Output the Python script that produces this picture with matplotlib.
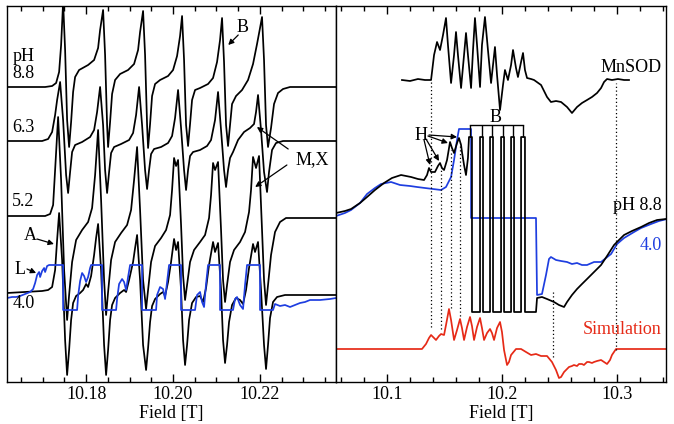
import matplotlib
matplotlib.use("Agg")
import matplotlib.pyplot as plt
from matplotlib.ticker import FixedLocator, MultipleLocator, FormatStrFormatter

plt.rcParams['font.family'] = ['Liberation Serif', 'DejaVu Serif']
plt.rcParams['font.size'] = 13

BLUE = '#1e3ee0'
RED = '#e62a17'

# ---------------- Left panel data (field offset in mT above 10.16 T, intensity a.u.)
B0_LEFT = 10.16
ph88 = [(1.83,295),(10.57,295),(12.18,296),(13.10,299),(13.79,310),(14.25,337),(14.71,380),(15.17,332),
        (15.63,262),(16.09,235),(16.55,260),(17.01,290),(17.47,305),(18.39,312),(20.46,317),(21.84,322),
        (22.76,334),(23.22,352),(23.91,372),(24.37,327),(24.83,257),(25.06,235),(25.52,260),(25.98,288),
        (26.67,302),(27.82,308),(29.66,312),(31.04,318),(31.96,332),(32.42,350),(33.11,371),(33.57,327),
        (34.03,257),(34.26,234),(34.72,258),(35.18,286),(35.87,298),(37.02,302),(38.86,306),(40.01,312),
        (40.93,326),(41.62,346),(42.08,366),(42.54,322),(43.00,257),(43.46,236),(43.92,258),(44.38,282),
        (45.07,292),(46.22,294),(48.06,298),(49.21,304),(50.13,320),(50.82,342),(51.28,364),(51.74,320),
        (52.20,257),(52.66,236),(53.12,257),(53.58,278),(54.50,286),(55.88,292),(57.26,302),(58.41,318),
        (59.33,338),(60.02,354),(60.48,365),(60.94,322),(61.40,257),(61.86,235),(62.55,254),(63.24,278),
        (64.16,289),(65.31,293),(66.92,295),(77.50,295)]
ph63 = [(1.83,241),(9.88,241),(11.26,243),(12.18,250),(12.87,267),(13.33,282),(14.02,300),(14.71,262),
        (15.40,207),(15.86,189),(16.32,210),(16.78,230),(17.47,237),(19.08,240),(20.92,245),(21.84,252),
        (22.53,270),(23.22,295),(23.91,257),(24.37,212),(24.83,189),(25.29,210),(25.75,229),(26.44,235),
        (28.05,238),(29.89,242),(30.81,249),(31.50,267),(32.19,295),(32.88,257),(33.57,212),(34.03,193),
        (34.49,212),(34.95,228),(35.64,233),(37.25,235),(38.86,239),(39.78,246),(40.47,264),(41.16,292),
        (41.85,254),(42.54,212),(43.00,192),(43.46,212),(43.92,226),(44.61,230),(46.22,232),(47.83,236),
        (48.75,242),(49.67,262),(50.36,290),(51.05,252),(51.74,212),(52.20,195),(52.66,212),(53.12,224),
        (53.81,230),(54.96,242),(56.34,250),(57.72,254),(58.64,258),(59.10,270),(59.56,287),(60.25,252),
        (60.94,210),(61.63,190),(62.09,210),(62.78,232),(63.70,239),(65.31,241),(77.50,241)]
ph52 = [(1.83,166),(10.57,166),(11.72,168),(12.41,177),(12.87,212),(13.56,265),(14.25,202),(14.94,112),
        (15.63,62),(16.09,87),(16.78,120),(17.70,142),(19.08,152),(20.46,160),(21.38,174),(22.07,207),
        (22.76,252),(23.45,182),(24.14,102),(24.60,67),(25.06,90),(25.75,122),(26.67,140),(28.05,149),
        (29.43,157),(30.35,172),(31.04,202),(31.73,235),(32.42,172),(33.11,102),(33.80,73),(34.26,92),
        (34.95,120),(35.87,136),(37.25,144),(38.40,152),(39.32,167),(39.78,192),(40.24,224),(40.70,216),
        (41.16,222),(41.85,157),(42.31,107),(42.77,82),(43.23,97),(43.92,120),(44.84,132),(46.22,140),
        (47.37,147),(48.29,164),(48.75,187),(49.21,219),(49.67,212),(50.36,220),(51.05,152),(51.51,102),
        (51.97,80),(52.43,97),(53.12,120),(54.04,132),(55.42,140),(56.57,150),(57.49,170),(57.95,192),
        (58.41,225),(59.10,214),(59.79,226),(60.48,152),(60.94,102),(61.40,77),(61.86,97),(62.55,127),
        (63.47,150),(64.62,160),(66.00,164),(77.50,164)]
ph40 = [(1.83,89),(9.88,91),(11.26,92),(12.18,95),(12.87,112),(13.33,142),(13.79,169),(14.48,122),
        (15.17,42),(15.63,7),(16.09,32),(16.55,62),(17.01,79),(17.70,86),(18.62,89),(19.31,92),(20.00,98),
        (20.46,95),(21.15,106),(21.84,127),(22.30,144),(22.76,158),(23.45,112),(24.14,37),(24.60,7),
        (25.06,32),(25.52,62),(25.98,77),(26.67,84),(27.82,89),(28.74,92),(29.20,90),(29.89,102),
        (30.81,120),(31.27,134),(31.73,147),(32.42,102),(33.11,37),(33.80,12),(34.26,34),(34.72,60),
        (35.18,76),(35.87,83),(37.02,88),(37.71,90),(38.17,86),(38.86,100),(39.55,120),(40.24,143),
        (40.70,132),(41.16,140),(41.85,92),(42.31,42),(42.77,17),(43.23,37),(43.69,62),(44.38,79),
        (45.30,85),(46.22,86),(46.91,80),(47.60,94),(48.29,117),(49.21,140),(49.67,130),(50.36,139),
        (51.05,92),(51.51,42),(51.97,19),(52.43,37),(52.89,60),(53.58,77),(54.50,84),(55.42,82),
        (56.11,78),(56.80,92),(57.49,114),(58.41,138),(58.87,130),(59.56,140),(60.25,92),(60.94,37),
        (61.40,13),(61.86,37),(62.32,64),(63.01,80),(63.93,85),(65.77,87),(77.50,87)]
ph40_blue = [(1.83,84),(2.98,85),(3.90,85),(4.82,86),(5.97,88),(7.12,90),(7.81,93),(8.27,99),(8.73,107),
        (9.19,110),(9.42,105),(9.88,111),(10.34,114),(10.57,110),(11.03,116),(11.49,117),(14.71,117),
        (14.71,72),(17.93,72),(18.16,86),(18.62,101),(19.08,109),(19.54,106),(20.00,100),(20.46,105),
        (20.92,114),(21.15,117),(23.68,117),(23.68,72),(26.90,72),(27.13,83),(27.59,98),(28.28,103),
        (28.74,100),(29.20,92),(29.66,105),(30.12,117),(32.88,117),(32.88,72),(36.10,72),(36.33,87),
        (37.02,95),(37.71,93),(38.17,83),(38.63,100),(39.09,117),(41.85,117),(41.85,72),(45.07,72),
        (45.53,87),(46.22,90),(46.68,80),(47.14,75),(47.60,98),(48.06,117),(50.82,117),(50.82,72),
        (53.81,72),(54.27,83),(54.73,85),(55.42,77),(56.11,73),(56.57,97),(57.03,117),(60.02,117),
        (60.02,72),(63.01,72),(63.47,78),(64.62,76),(65.77,77),(66.92,75),(68.07,77),(69.22,79),
        (70.37,80),(71.52,82),(73.82,82),(76.12,83),(77.50,84)]

# ---------------- Right panel data (field in T, intensity a.u.)
mnsod = [(10.1132,302),(10.1202,301),(10.1271,303),(10.1332,302),(10.1385,302),(10.1411,327),(10.1437,340),
         (10.1463,332),(10.1489,347),(10.1515,364),(10.1532,337),(10.1559,299),(10.1585,327),(10.1602,350),
         (10.1619,327),(10.1646,294),(10.1672,327),(10.1689,349),(10.1706,327),(10.1733,294),(10.1750,332),
         (10.1767,364),(10.1785,337),(10.1811,295),(10.1828,337),(10.1854,365),(10.1880,332),(10.1907,299),
         (10.1924,317),(10.1941,335),(10.1959,307),(10.1985,272),(10.2011,297),(10.2028,312),(10.2054,302),
         (10.2081,317),(10.2098,332),(10.2124,314),(10.2141,305),(10.2168,320),(10.2185,329),(10.2202,312),
         (10.2220,304),(10.2255,303),(10.2281,302),(10.2342,297),(10.2394,285),(10.2428,280),(10.2472,281),
         (10.2516,280),(10.2568,275),(10.2611,269),(10.2655,275),(10.2698,279),(10.2742,282),(10.2785,285),
         (10.2829,289),(10.2864,294),(10.2890,300),(10.2916,303),(10.2959,302),(10.3011,303),(10.3064,302),
         (10.3107,302)]
r_ph88 = [(10.0558,169),(10.0636,171),(10.0689,173),(10.0767,179),(10.0828,185),(10.0897,192),(10.0976,199),
          (10.1045,204),(10.1124,207),(10.1211,205),(10.1271,203),(10.1324,202),(10.1350,207),(10.1367,214),
          (10.1385,210),(10.1419,210),(10.1445,216),(10.1463,219),(10.1480,214),(10.1498,212),(10.1524,222),
          (10.1550,240),(10.1567,234),(10.1585,229),(10.1611,239),(10.1628,244),(10.1646,237),(10.1654,230),
          (10.1672,217),(10.1689,207),(10.1706,224),(10.1715,245),(10.1741,245),(10.1741,70),(10.1811,70),
          (10.1811,245),(10.1837,245),(10.1837,70),(10.1898,70),(10.1898,245),(10.1924,245),(10.1924,70),
          (10.1994,70),(10.1994,245),(10.2020,245),(10.2020,70),(10.2081,70),(10.2081,245),(10.2107,245),
          (10.2107,70),(10.2168,70),(10.2168,245),(10.2202,245),(10.2202,70),(10.2298,70),(10.2307,84),
          (10.2350,85),(10.2394,83),(10.2455,80),(10.2498,77),(10.2542,75),(10.2568,80),(10.2611,87),
          (10.2655,93),(10.2698,98),(10.2742,103),(10.2803,110),(10.2864,117),(10.2916,126),(10.2977,137),
          (10.3020,142),(10.3064,147),(10.3133,151),(10.3212,155),(10.3281,159),(10.3351,162),(10.3429,163)]
r_ph40 = [(10.0558,166),(10.0636,169),(10.0689,172),(10.0767,179),(10.0828,188),(10.0897,194),(10.0950,198),
          (10.1037,200),(10.1115,197),(10.1202,196),(10.1263,195),(10.1332,194),(10.1402,193),(10.1472,192),
          (10.1515,195),(10.1559,205),(10.1585,222),(10.1611,242),(10.1628,253),(10.1733,253),(10.1733,164),
          (10.2298,164),(10.2307,87),(10.2350,88),(10.2385,107),(10.2411,123),(10.2428,125),(10.2472,122),
          (10.2516,121),(10.2568,120),(10.2611,118),(10.2655,119),(10.2698,117),(10.2742,117),(10.2803,120),
          (10.2864,120),(10.2907,124),(10.2951,128),(10.3003,138),(10.3064,144),(10.3151,150),(10.3212,154),
          (10.3299,158),(10.3368,161),(10.3438,163)]
simulation = [(10.0558,33),(10.1306,33),(10.1341,38),(10.1367,44),(10.1385,47),(10.1411,44),(10.1428,42),
              (10.1454,46),(10.1472,48),(10.1498,47),(10.1515,57),(10.1541,73),(10.1559,62),(10.1585,42),
              (10.1611,52),(10.1637,63),(10.1654,54),(10.1672,42),(10.1698,55),(10.1724,65),(10.1741,56),
              (10.1759,42),(10.1785,55),(10.1811,64),(10.1828,54),(10.1846,42),(10.1872,49),(10.1898,53),
              (10.1915,49),(10.1933,42),(10.1959,54),(10.1985,60),(10.2002,50),(10.2020,32),(10.2046,17),
              (10.2063,20),(10.2081,27),(10.2124,33),(10.2168,33),(10.2211,30),(10.2255,27),(10.2298,28),
              (10.2342,26),(10.2394,26),(10.2437,20),(10.2472,12),(10.2498,4),(10.2516,5),(10.2542,10),
              (10.2585,15),(10.2611,16),(10.2628,17),(10.2655,16),(10.2672,18),(10.2698,18),(10.2715,17),
              (10.2742,20),(10.2759,20),(10.2785,19),(10.2803,20),(10.2829,21),(10.2864,22),(10.2890,20),
              (10.2916,18),(10.2942,22),(10.2959,27),(10.2994,33),(10.3429,33)]
guide_B = [10.1385, 10.1472, 10.1559, 10.1637, 10.2446, 10.2994]
guide_top = [300, 215, 232, 239, 90, 299]
guide_bot = [55, 53, 74, 66, 25, 32]
b_sticks = [10.1728, 10.1824, 10.1911, 10.2007, 10.2094, 10.2185]

left_major = [10.18, 10.20, 10.22]
right_major = [10.1, 10.2, 10.3]

W, H = 674, 424
fig = plt.figure(figsize=(W / 100, H / 100), dpi=100)
axL = fig.add_axes([7 / W, 42 / H, 329 / W, 376 / H])
axR = fig.add_axes([336 / W, 42 / H, 330 / W, 376 / H])


def unz(pairs, off=None):
    xs = [p[0] for p in pairs]
    if off is not None:
        xs = [off + x / 1000.0 for x in xs]
    return xs, [p[1] for p in pairs]


LW = 1.25
for pairs in (ph88, ph63, ph52, ph40):
    x, y = unz(pairs, B0_LEFT)
    axL.plot(x, y, color='k', lw=LW)
x, y = unz(ph40_blue, B0_LEFT)
axL.plot(x, y, color=BLUE, lw=LW)

x, y = unz(r_ph40)
axR.plot(x, y, color=BLUE, lw=LW)
x, y = unz(r_ph88)
axR.plot(x, y, color='k', lw=LW)
x, y = unz(mnsod)
axR.plot(x, y, color='k', lw=LW)
x, y = unz(simulation)
axR.plot(x, y, color=RED, lw=LW)
axR.vlines(guide_B, guide_bot, guide_top, colors='k', linestyles=(0, (1, 2)), lw=0.9)
# B stick bracket
axR.plot([b_sticks[0], b_sticks[-1]], [257, 257], color='k', lw=1.0)
axR.vlines(b_sticks, 245, 257, colors='k', lw=1.0)

for ax in (axL, axR):
    ax.set_ylim(0, 376)
    ax.set_yticks([])
    ax.tick_params(axis='x', which='both', direction='in', top=True, bottom=True,
                   width=1.0, labelsize=13, pad=3)
    ax.tick_params(axis='x', which='major', length=5.5)
    ax.tick_params(axis='x', which='minor', length=3.5)
    for s in ax.spines.values():
        s.set_linewidth(1.0)
    ax.set_xlabel('Field [T]', fontsize=13, labelpad=1)

axL.set_xlim(10.1618, 10.2375)
axL.xaxis.set_major_locator(FixedLocator(left_major))
axL.xaxis.set_minor_locator(MultipleLocator(0.005))
axL.xaxis.set_major_formatter(FormatStrFormatter('%.2f'))

axR.set_xlim(10.0558, 10.3429)
axR.xaxis.set_major_locator(FixedLocator(right_major))
axR.xaxis.set_minor_locator(MultipleLocator(0.02))
axR.xaxis.set_major_formatter(FormatStrFormatter('%.1f'))

fs = 13
xl = 10.1630
axL.text(xl, 317, 'pH\n8.8', ha='left', va='center', fontsize=fs, linespacing=0.95)
axL.text(xl, 255, '6.3', ha='left', va='center', fontsize=fs)
axL.text(xl, 180, '5.2', ha='left', va='center', fontsize=fs)
axL.text(xl, 78, '4.0', ha='left', va='center', fontsize=fs)
axL.text(10.1671, 147, 'A', ha='center', va='center', fontsize=fs)
axL.text(10.1648, 112, 'L', ha='center', va='center', fontsize=fs)
axL.text(10.2161, 354, 'B', ha='center', va='center', fontsize=fs)
axL.text(10.2320, 222, 'M,X', ha='center', va='center', fontsize=fs)

arrow = dict(arrowstyle='-|>', color='k', lw=0.9, mutation_scale=8, shrinkA=0, shrinkB=0)
axL.annotate('', xy=(10.1726, 138), xytext=(10.1687, 143), arrowprops=arrow)
axL.annotate('', xy=(10.1685, 109), xytext=(10.1664, 113), arrowprops=arrow)
axL.annotate('', xy=(10.2127, 337), xytext=(10.2150, 347), arrowprops=arrow)
axL.annotate('', xy=(10.2193, 255), xytext=(10.2265, 233), arrowprops=arrow)
axL.annotate('', xy=(10.2189, 195), xytext=(10.2262, 217), arrowprops=arrow)

xr = 10.3394
axR.text(xr, 315, 'MnSOD', ha='right', va='center', fontsize=fs)
axR.text(xr, 177, 'pH 8.8', ha='right', va='center', fontsize=fs)
axR.text(xr, 137, '4.0', ha='right', va='center', fontsize=fs, color=BLUE)
axR.text(xr, 52, 'Simulation', ha='right', va='center', fontsize=fs, color=RED)
axR.text(10.1298, 247, 'H', ha='center', va='center', fontsize=fs)
axR.text(10.1950, 264, 'B', ha='center', va='center', fontsize=fs)
for head, tail in [((10.1376, 217), (10.1324, 242)), ((10.1454, 221), (10.1341, 243)),
                   ((10.1532, 239), (10.1358, 246)), ((10.1611, 245), (10.1367, 247))]:
    axR.annotate('', xy=head, xytext=tail, arrowprops=arrow)

fig.savefig('out.png', dpi=100)
